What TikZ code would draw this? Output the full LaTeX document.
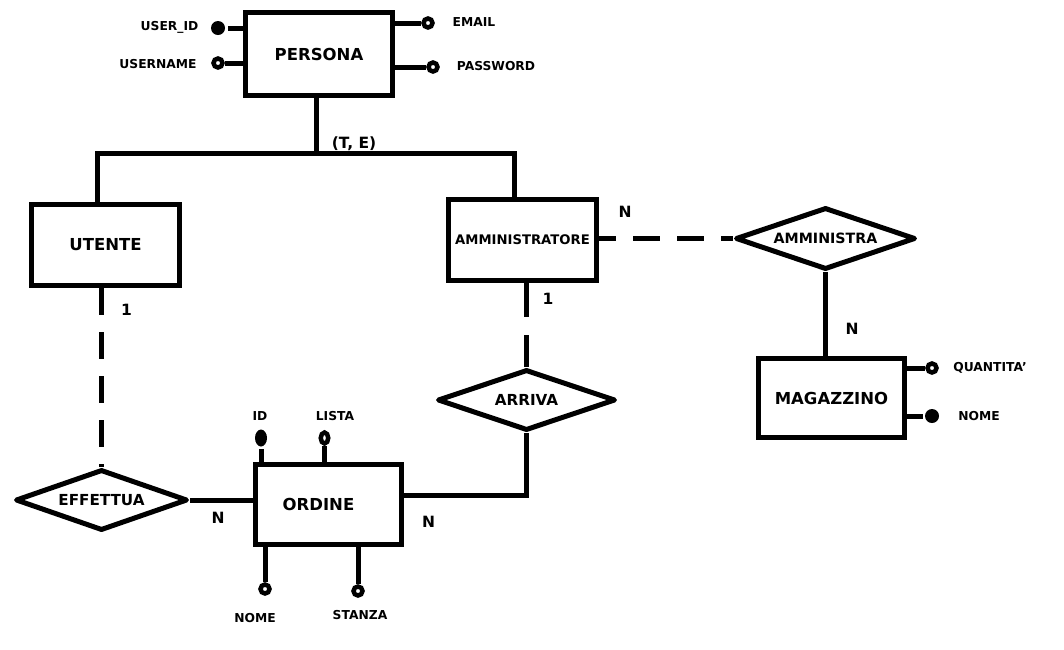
\documentclass[tikz,border=0pt]{standalone}
\usepackage{fontspec}
\setmainfont{DejaVu Sans}
\usetikzlibrary{shapes.geometric}

\begin{document}
\begin{tikzpicture}[x=1pt,y=-1pt,line width=5pt,
    entity/.style={draw,rectangle,inner sep=0pt,font=\bfseries\fontsize{16.5}{19}\selectfont},
    relation/.style={draw,diamond,aspect=2.8,inner sep=0pt,line join=round,font=\bfseries\fontsize{15.2}{17}\selectfont},
    attr/.style={font=\bfseries\fontsize{12.3}{14}\selectfont},
    card/.style={font=\bfseries\fontsize{15.5}{17}\selectfont},
    keydot/.style={circle,fill,inner sep=0pt,minimum size=14pt},
    optdot/.style={circle,draw,fill=white,line width=4.5pt,inner sep=0pt,minimum size=9pt},
    link/.style={dash pattern=on 27pt off 17pt}]
        \useasboundingbox[fill=white] (0,0) rectangle (1064,649);

        % entities
        \node[entity,minimum width=147pt,minimum height=83pt] (persona) at (319,54) {PERSONA};
        \node[entity,minimum width=148pt,minimum height=81pt] (utente) at (105.5,245) {UTENTE};
        \node[entity,minimum width=148pt,minimum height=81pt,font=\bfseries\fontsize{13.2}{15}\selectfont] (amm) at (522.5,240) {AMMINISTRATORE};
        \node[entity,minimum width=146pt,minimum height=79pt] (magazzino) at (831.5,398) {MAGAZZINO};
        \node[entity,minimum width=146pt,minimum height=80pt] (ordine) at (328.5,504.5) {\hspace*{-20pt}ORDINE};

        % relations
        \node[relation,minimum width=172pt,minimum height=61pt] (effettua) at (101.5,500) {EFFETTUA};
        \node[relation,minimum width=178pt,minimum height=61pt] (arriva) at (526.5,400) {ARRIVA};
        \node[relation,minimum width=180pt,minimum height=62pt,font=\bfseries\fontsize{14.2}{16}\selectfont] (amministra) at (825.5,238.5) {AMMINISTRA};

        % generalisation
        \coordinate (isa) at (316,153);
        \coordinate (isaL) at (97,153);
        \coordinate (isaR) at (514,153);
        \draw (persona.south -| isa) -- (isa);
        \draw[line join=miter] (utente.north -| isaL) -- (isaL) -- (isaR) -- (amm.north -| isaR);
        \node[card] (te) at (354,144) {(T, E)};

        % links
        \draw[link] (utente.south -| effettua.north) -- (effettua.north);
        \draw[link,dash pattern=on 34pt off 18pt] (amm.south -| arriva.north) -- (arriva.north);
        \draw[link,dash phase=10pt] (amm.east |- amministra.west) -- (amministra.west);
        \draw (amministra.south) -- (amministra.south |- magazzino.north);
        \draw (effettua.east) -- (effettua.east -| ordine.west);
        \coordinate (oa) at (526.5,495);
        \draw[line join=miter] (ordine.east |- oa) -- (oa) -- (arriva.south);

        \node[card] (c1) at (126.5,310) {1};
        \node[card] (c2) at (548,299) {1};
        \node[card] (c3) at (625,212) {N};
        \node[card] (c4) at (852,329) {N};
        \node[card] (c5) at (218,518) {N};
        \node[card] (c6) at (428.5,522) {N};

        % attributes of PERSONA
        \node[keydot] (uid) at (218,28) {};
        \node[optdot] (uname) at (218,63) {};
        \node[optdot] (email) at (428,23) {};
        \node[optdot] (pwd) at (433,67) {};
        \draw (persona.west |- uid) -- (uid);
        \draw (persona.west |- uname) -- (uname);
        \draw (persona.east |- email) -- (email);
        \draw (persona.east |- pwd) -- (pwd);
        \node[attr] (uidt) at (169.5,27) {USER\_ID};
        \node[attr] (unamet) at (158,64) {USERNAME};
        \node[attr] (emailt) at (474,22) {EMAIL};
        \node[attr] (pwdt) at (496,66) {PASSWORD};

        % attributes of ORDINE
        \node[keydot,ellipse,minimum width=12pt,minimum height=17pt] (oid) at (261,438) {};
        \node[optdot,ellipse,minimum width=7.5pt,minimum height=11pt] (olista) at (324.5,438) {};
        \node[optdot] (onome) at (265,589) {};
        \node[optdot] (ostanza) at (358,591) {};
        \draw (ordine.north -| oid) -- (oid);
        \draw (ordine.north -| olista) -- (olista);
        \draw (ordine.south -| onome) -- (onome);
        \draw (ordine.south -| ostanza) -- (ostanza);
        \node[attr] (oidt) at (260,416) {ID};
        \node[attr] (olistat) at (335,416) {LISTA};
        \node[attr] (onomet) at (255,618) {NOME};
        \node[attr] (ostanzat) at (360,615) {STANZA};

        % attributes of MAGAZZINO
        \node[optdot] (mqta) at (932,368) {};
        \node[keydot] (mnome) at (932,416) {};
        \draw (magazzino.east |- mqta) -- (mqta);
        \draw (magazzino.east |- mnome) -- (mnome);
        \node[attr] (mqtat) at (990,368) {QUANTITA'};
        \node[attr] (mnomet) at (979,416) {NOME};
    \end{tikzpicture}
\end{document}
